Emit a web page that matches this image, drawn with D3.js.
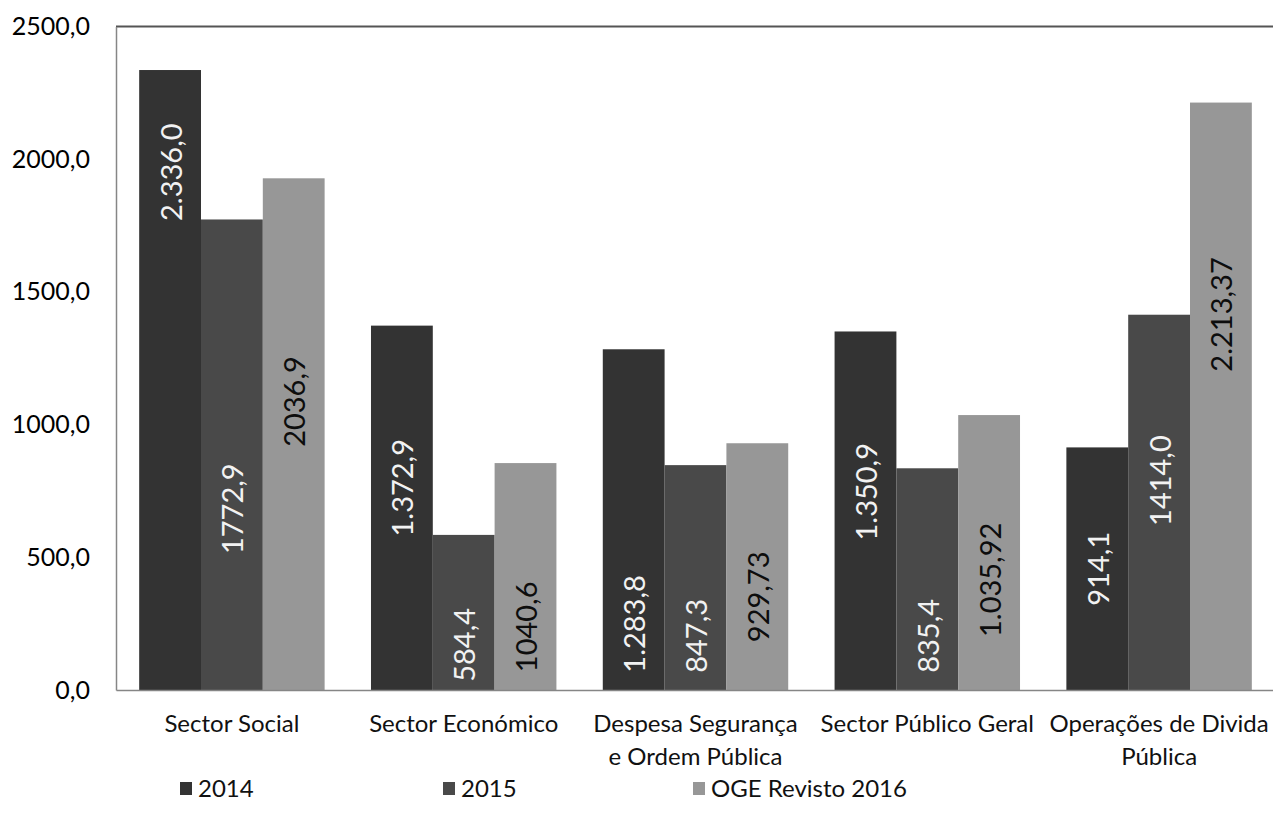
<!DOCTYPE html>
<html>
<head>
<meta charset="utf-8">
<script src="https://cdn.jsdelivr.net/npm/d3@7/dist/d3.min.js"></script>
<style>
  html, body { margin: 0; padding: 0; background: #fff; }
  svg { display: block; font-family: Lato, "Open Sans", sans-serif; }
</style>
</head>
<body>
<svg id="chart" width="1273" height="824"></svg>
<script>
// ---- data ----
const categories = [
  ["Sector Social"],
  ["Sector Económico"],
  ["Despesa Segurança", "e Ordem Pública"],
  ["Sector Público Geral"],
  ["Operações de Divida", "Pública"]
];
const series = ["2014", "2015", "OGE Revisto 2016"];
const values2014 = [2336.0, 1372.9, 1283.8, 1350.9, 914.1];
const values2015 = [1772.9, 584.4, 847.3, 835.4, 1414.0];
const values2016 = [1928, 855, 929.73, 1035.92, 2213.37];
const labels2014 = ["2.336,0", "1.372,9", "1.283,8", "1.350,9", "914,1"];
const labels2015 = ["1772,9", "584,4", "847,3", "835,4", "1414,0"];
const labels2016 = ["2036,9", "1040,6", "929,73", "1.035,92", "2.213,37"];
// where each data label is centred, in axis units
const labelAt2014 = [1951, 762, 249, 747, 457];
const labelAt2015 = [683, 170, 204, 204, 789];
const labelAt2016 = [1087, 238, 351, 415, 1415];
const yTicks = [0, 500, 1000, 1500, 2000, 2500];
const yTickLabels = ["0,0", "500,0", "1000,0", "1500,0", "2000,0", "2500,0"];

const colors = ["#333333", "#494949", "#979797"];
const labelColors = ["#f2f2f2", "#f2f2f2", "#0d0d0d"];

const allValues = [values2014, values2015, values2016];
const allLabels = [labels2014, labels2015, labels2016];
const allLabelAt = [labelAt2014, labelAt2015, labelAt2016];

// ---- layout ----
const plotLeft = 116, plotRight = 1275, plotTop = 26.5, plotBottom = 690;
const svg = d3.select("#chart");

const catKeys = categories.map(c => c.join(" "));
const x0 = d3.scaleBand().domain(catKeys).range([plotLeft, plotRight]).padding(0);
const bw = x0.bandwidth();
const x1 = d3.scaleBand().domain(series).range([bw * 0.1, bw * 0.9]).padding(0);
const y = d3.scaleLinear().domain([0, 2500]).range([plotBottom, plotTop]);

// top border
svg.append("line")
  .attr("x1", plotLeft).attr("x2", 1273).attr("y1", plotTop).attr("y2", plotTop)
  .attr("stroke", "#555").attr("stroke-width", 2);

// bars
const rows = [];
series.forEach((s, si) => {
  catKeys.forEach((c, ci) => {
    rows.push({ s, si, c, ci, v: allValues[si][ci], lab: allLabels[si][ci], at: allLabelAt[si][ci] });
  });
});

svg.append("g").selectAll("rect").data(rows).join("rect")
  .attr("x", d => x0(d.c) + x1(d.s))
  .attr("y", d => y(d.v))
  .attr("width", x1.bandwidth())
  .attr("height", d => y(0) - y(d.v))
  .attr("fill", d => colors[d.si]);

// data labels (rotated)
svg.append("g").selectAll("text").data(rows).join("text")
  .attr("transform", d => `translate(${x0(d.c) + x1(d.s) + x1.bandwidth() / 2},${y(d.at)}) rotate(-90)`)
  .attr("text-anchor", "middle")
  .attr("dominant-baseline", "central")
  .attr("font-size", 29)
  .attr("fill", d => labelColors[d.si])
  .text(d => d.lab);

// axes
const yAxis = d3.axisLeft(y).tickValues(yTicks).tickSize(0).tickPadding(26)
  .tickFormat((d, i) => yTickLabels[i]);
const gy = svg.append("g").attr("transform", `translate(${plotLeft},0)`).call(yAxis);
gy.select(".domain").attr("stroke", "#868686").attr("stroke-width", 1.5);
gy.selectAll("text").attr("font-size", 25).attr("fill", "#000").attr("font-family", "Lato, sans-serif");

const xAxis = d3.axisBottom(x0).tickSize(0).tickFormat("");
const gx = svg.append("g").attr("transform", `translate(0,${plotBottom})`).call(xAxis);
gx.select(".domain").attr("stroke", "#868686").attr("stroke-width", 1.5);

// category labels
const catG = svg.append("g");
categories.forEach((lines, ci) => {
  const t = catG.append("text")
    .attr("x", x0(catKeys[ci]) + bw / 2)
    .attr("y", 732)
    .attr("text-anchor", "middle")
    .attr("font-size", 24)
    .attr("fill", "#111");
  lines.forEach((ln, li) => {
    t.append("tspan").attr("x", x0(catKeys[ci]) + bw / 2).attr("dy", li === 0 ? 0 : 33).text(ln);
  });
});

// legend
const legendX = [180, 443, 693];
const lg = svg.append("g");
series.forEach((s, si) => {
  lg.append("rect").attr("x", legendX[si]).attr("y", 782).attr("width", 12).attr("height", 13)
    .attr("fill", colors[si]);
  lg.append("text").attr("x", legendX[si] + 18).attr("y", 797)
    .attr("font-size", 24).attr("fill", "#111").text(s);
});
</script>
</body>
</html>
